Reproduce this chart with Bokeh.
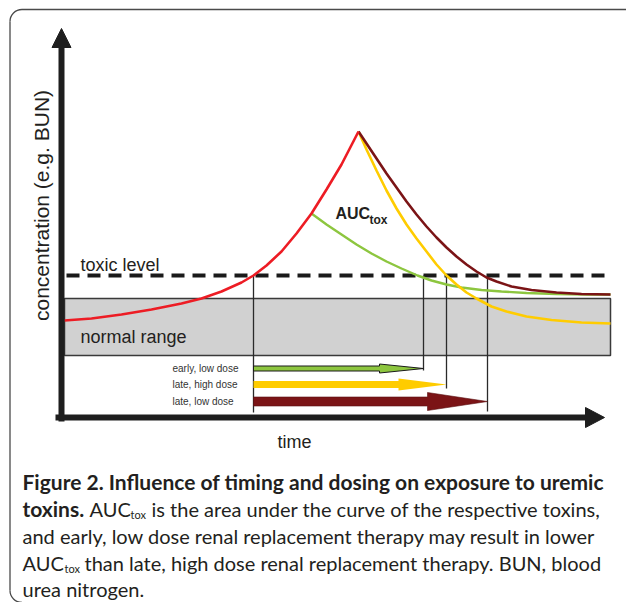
import math
from bokeh.plotting import figure
from bokeh.models import Range1d
from bokeh.embed import file_html
from bokeh.resources import INLINE
from bokeh.core.properties import value

# ---------------- data (schematic units: time, concentration) ----------------
red_t = [0.3, 3.0, 6.0, 9.0, 12.0, 14.0, 16.0, 18.0, 19.2, 20.5, 22.0, 23.5, 25.0, 26.5, 28.0, 29.7]
red_c = [9.7, 9.9, 10.3, 10.8, 11.4, 11.9, 12.6, 13.5, 14.2, 15.2, 16.6, 18.4, 20.4, 22.8, 25.3, 28.6]

green_t = [25.0, 26.5, 28.0, 29.5, 31.0, 32.5, 34.0, 35.6, 37.0, 38.5, 40.0, 42.0, 44.0, 46.5, 49.5, 52.5, 54.9]
green_c = [20.4, 19.3, 18.3, 17.3, 16.4, 15.6, 14.9, 14.2, 13.7, 13.3, 13.0, 12.75, 12.6, 12.45, 12.35, 12.3, 12.3]

yellow_t = [29.7, 30.5, 31.5, 32.5, 33.5, 34.5, 35.5, 36.5, 37.5, 38.5, 39.5, 40.5, 41.5, 43.0, 44.5, 46.5,
            49.0, 52.0, 54.9]
yellow_c = [28.6, 26.8, 24.7, 22.7, 20.9, 19.3, 17.9, 16.6, 15.3, 14.2, 13.3, 12.5, 11.9, 11.1, 10.6, 10.1,
            9.75, 9.5, 9.4]

darkred_t = [29.7, 30.5, 31.5, 32.5, 33.5, 34.5, 35.5, 36.5, 37.5, 38.5, 39.5, 40.5, 41.5, 42.5, 43.5, 45.0,
             47.0, 49.5, 52.0, 54.9]
darkred_c = [28.6, 27.4, 25.9, 24.4, 23.0, 21.6, 20.3, 19.1, 18.0, 17.0, 16.1, 15.3, 14.6, 14.0, 13.6, 13.1,
             12.75, 12.5, 12.35, 12.3]

toxic_level = 14.2
normal_range = [6.2, 11.9]
range_time = [0.3, 54.9]

therapy_start = 19.2
therapy_labels = ["early, low dose", "late, high dose", "late, low dose"]
therapy_end = [36.2, 38.5, 42.6]
therapy_row = [4.9, 3.3, 1.6]
end_line_bottom = [4.7, 2.9, 0.6]
start_line_bottom = 0.5

caption_bold = ["Figure 2. Influence of timing and dosing on exposure to uremic", "toxins."]
caption_regular = [
    "is the area under the curve of the respective toxins,",
    "and early, low dose renal replacement therapy may result in lower",
    "than late, high dose renal replacement therapy. BUN, blood",
    "urea nitrogen.",
]

# ---------------- styles ----------------
RED = "#ed1c24"
GREEN = "#8dc63f"
YELLOW = "#ffcc00"
DARKRED = "#7b1416"
INK = "#231f20"
FONT = value("Liberation Sans")
CAP_FONT = value("Lato")

# 10 px per unit, origin at the axes corner
p = figure(width=626, height=602, x_range=Range1d(-6.1, 56.5), y_range=Range1d(-18.5, 41.7),
           output_backend="svg", toolbar_location=None, min_border=0, title=None,
           x_axis_type=None, y_axis_type=None)
p.grid.visible = False
p.outline_line_color = None
p.background_fill_color = "white"
p.border_fill_color = "white"

# ---------------- frame with rounded corners ----------------
fr_left, fr_top, fr_r, fr_bottom = -5.15, 40.8, 1.2, -17.3
p.segment(x0=[fr_left + fr_r], y0=[fr_top], x1=[60], y1=[fr_top], line_color="#4a4a4a", line_width=1.3)
p.segment(x0=[fr_left], y0=[fr_top - fr_r], x1=[fr_left], y1=[fr_bottom], line_color="#4a4a4a", line_width=1.3)
p.arc(x=[fr_left + fr_r], y=[fr_top - fr_r], radius=fr_r, start_angle=math.pi / 2, end_angle=math.pi,
      line_color="#4a4a4a", line_width=1.3)
p.arc(x=[fr_left + fr_r], y=[fr_bottom], radius=fr_r, start_angle=math.pi, end_angle=1.5 * math.pi,
      line_color="#4a4a4a", line_width=1.3)

# ---------------- normal range box ----------------
p.quad(left=[range_time[0]], right=[range_time[1]], bottom=[normal_range[0]], top=[normal_range[1]],
       fill_color="#d1d1d1", line_color="#3a3a3a", line_width=1.5)

# ---------------- vertical marker lines ----------------
p.segment(x0=[therapy_start] + therapy_end, y0=[toxic_level] * 4,
          x1=[therapy_start] + therapy_end, y1=[start_line_bottom] + end_line_bottom,
          line_color="#2a2a2a", line_width=1.3)

# ---------------- toxic level ----------------
p.line(x=[0.5, range_time[1]], y=[toxic_level, toxic_level], line_color="#1a1a1a", line_width=4,
       line_dash="13 8")

# ---------------- curves ----------------
p.line(green_t, green_c, line_color=GREEN, line_width=2.4)
p.line(yellow_t, yellow_c, line_color=YELLOW, line_width=2.6)
p.line(darkred_t, darkred_c, line_color=DARKRED, line_width=2.6)
p.line(red_t, red_c, line_color=RED, line_width=2.6)

# ---------------- therapy arrows ----------------
def arrow_shape(t0, t1, c, shaft, head, head_len):
    xs = [t0, t1 - head_len, t1 - head_len, t1, t1 - head_len, t1 - head_len, t0]
    ys = [c - shaft, c - shaft, c - head, c, c + head, c + shaft, c + shaft]
    return xs, ys

arrow_style = [
    dict(shaft=0.25, head=0.45, head_len=4.4, fill=GREEN, line="#1a1a1a", lw=1.0),
    dict(shaft=0.35, head=0.6, head_len=4.8, fill=YELLOW, line=None, lw=0),
    dict(shaft=0.45, head=0.9, head_len=6.0, fill=DARKRED, line="#5a0f10", lw=0.6),
]
for end, row, st in zip(therapy_end, therapy_row, arrow_style):
    xs, ys = arrow_shape(therapy_start, end, row, st["shaft"], st["head"], st["head_len"])
    p.patch(xs, ys, fill_color=st["fill"], line_color=st["line"], line_width=st["lw"])

p.text(x=[11.1] * 3, y=therapy_row, text=therapy_labels, text_font=FONT, text_font_size="10px",
       text_color="#333333", text_baseline="middle", text_align="left")

# ---------------- axes (thick arrows) ----------------
p.segment(x0=[0], y0=[-0.4], x1=[0], y1=[37.1], line_color="#1e1e1e", line_width=6)
p.patch([-0.95, 0.95, 0], [37.0, 37.0, 38.9], fill_color="#1e1e1e", line_color="#1e1e1e")
p.segment(x0=[-0.6], y0=[0], x1=[52.5], y1=[0], line_color="#1e1e1e", line_width=6)
p.patch([52.4, 52.4, 54.3], [1.0, -1.0, 0], fill_color="#1e1e1e", line_color="#1e1e1e")

# ---------------- chart texts ----------------
p.text(x=[1.9], y=[15.3], text=["toxic level"], text_font=FONT, text_font_size="18px",
       text_color=INK, text_baseline="middle")
p.text(x=[1.9], y=[8.1], text=["normal range"], text_font=FONT, text_font_size="18px",
       text_color=INK, text_baseline="middle")
p.text(x=[23.3], y=[-2.4], text=["time"], text_font=FONT, text_font_size="18px",
       text_color=INK, text_baseline="middle", text_align="center")
p.text(x=[-2.0], y=[21.2], text=["concentration (e.g. BUN)"], text_font=FONT, text_font_size="21px",
       text_color=INK, text_baseline="middle", text_align="center", angle=math.pi / 2)
p.text(x=[27.4], y=[20.4], text=["AUC"], text_font=FONT, text_font_size="16px", text_font_style="bold",
       text_color=INK, text_baseline="middle")
p.text(x=[30.8], y=[19.8], text=["tox"], text_font=FONT, text_font_size="12px", text_font_style="bold",
       text_color=INK, text_baseline="middle")

# ---------------- caption ----------------
cap_y = [-6.4, -9.1, -11.8, -14.5, -17.1]
cx = -3.9
p.text(x=[cx, cx], y=cap_y[0:2], text=caption_bold, text_font=CAP_FONT,
       text_font_size="21px", text_font_style="bold", text_color=INK, text_baseline="middle")
p.text(x=[2.8, cx], y=[cap_y[1], cap_y[3]], text=["AUC", "AUC"], text_font=CAP_FONT,
       text_font_size="20px", text_color=INK, text_baseline="middle")
p.text(x=[6.9, 0.3], y=[cap_y[1] - 0.6, cap_y[3] - 0.6], text=["tox", "tox"], text_font=CAP_FONT,
       text_font_size="11px", text_color=INK, text_baseline="middle")
p.text(x=[9.0, cx, 2.3, cx], y=cap_y[1:], text=caption_regular, text_font=CAP_FONT,
       text_font_size="20px", text_color=INK, text_baseline="middle")

open("out.html", "w").write(file_html(p, INLINE))
